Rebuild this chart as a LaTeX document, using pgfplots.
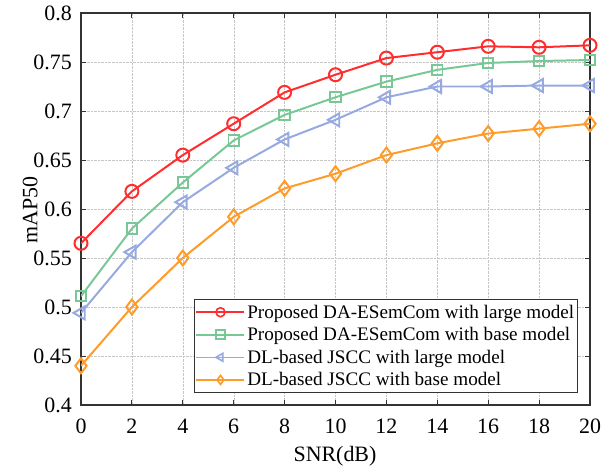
\documentclass[border=0pt]{standalone}
\usepackage{pgfplots}
\pgfplotsset{compat=1.18}
\usepackage{fontspec}
\setmainfont{Liberation Serif}
\definecolor{cred}{RGB}{255,45,45}
\definecolor{cgreen}{RGB}{120,200,150}
\definecolor{cblue}{RGB}{150,170,225}
\definecolor{corange}{RGB}{255,155,40}
\begin{document}
\begin{tikzpicture}
\begin{axis}[
  scale only axis,
  width=509bp, height=392bp,
  xmin=0, xmax=20, ymin=0.4, ymax=0.8,
  xtick={0,2,...,20},
  ytick={0.4,0.45,...,0.8},
  yticklabels={0.4,0.45,0.5,0.55,0.6,0.65,0.7,0.75,0.8},
  tick align=inside,
  tick pos=both,
  major tick length=5bp,
  grid=major,
  grid style={densely dotted, gray!45},
  axis line style={line width=1.2pt, black!80},
  every tick/.style={black!80, line width=0.9pt},
  tick label style={font=\fontsize{22}{24}\selectfont},
  xticklabel style={anchor=north, inner sep=0pt, yshift=-14bp},
  yticklabel style={anchor=east, inner sep=0pt, xshift=-9bp},
  /pgf/number format/assume math mode=true,
  xlabel={SNR(dB)},
  ylabel={mAP50},
  label style={font=\fontsize{22}{24}\selectfont},
  xlabel style={at={(axis description cs:0.499,-0.13)}, anchor=center},
  ylabel style={at={(axis description cs:-0.100,0.497)}, anchor=center},
  legend style={at={(0.976,0.031)}, anchor=south east, font=\fontsize{19.2}{21}\selectfont,
    draw=black!80, line width=1.2pt, row sep=3.8bp, inner xsep=1bp, inner ysep=3bp},
  legend cell align=left,
  legend image code/.code={\draw[mark repeat=2,mark phase=2,#1, mark size=4.5bp, line width=1.6pt] plot coordinates {(0bp,0bp)(24bp,0bp)(48bp,0bp)};},
  every axis plot/.append style={line width=2pt, mark size=6.5bp},
]
\addplot[cred, mark=o] coordinates {(0,0.565)(2,0.618)(4,0.655)(6,0.687)(8,0.719)(10,0.737)(12,0.754)(14,0.760)(16,0.766)(18,0.765)(20,0.767)};
\addplot[cgreen, mark=square, mark size=5.2bp] coordinates {(0,0.511)(2,0.580)(4,0.627)(6,0.670)(8,0.696)(10,0.714)(12,0.730)(14,0.742)(16,0.749)(18,0.751)(20,0.752)};
\addplot[cblue, mark=triangle, mark options={rotate=90}, mark size=7.5bp] coordinates {(0,0.494)(2,0.556)(4,0.607)(6,0.642)(8,0.671)(10,0.691)(12,0.714)(14,0.725)(16,0.725)(18,0.726)(20,0.726)};
\addplot[corange, mark=diamond, mark size=7.5bp] coordinates {(0,0.440)(2,0.500)(4,0.550)(6,0.592)(8,0.621)(10,0.636)(12,0.655)(14,0.667)(16,0.677)(18,0.682)(20,0.687)};
\legend{Proposed DA-ESemCom with large model, Proposed DA-ESemCom with base model, DL-based JSCC with large model, DL-based JSCC with base model}
\end{axis}
\path (current axis.south west) ++(-81bp,-63bp) rectangle ++(612bp,468bp);
\end{tikzpicture}
\end{document}
